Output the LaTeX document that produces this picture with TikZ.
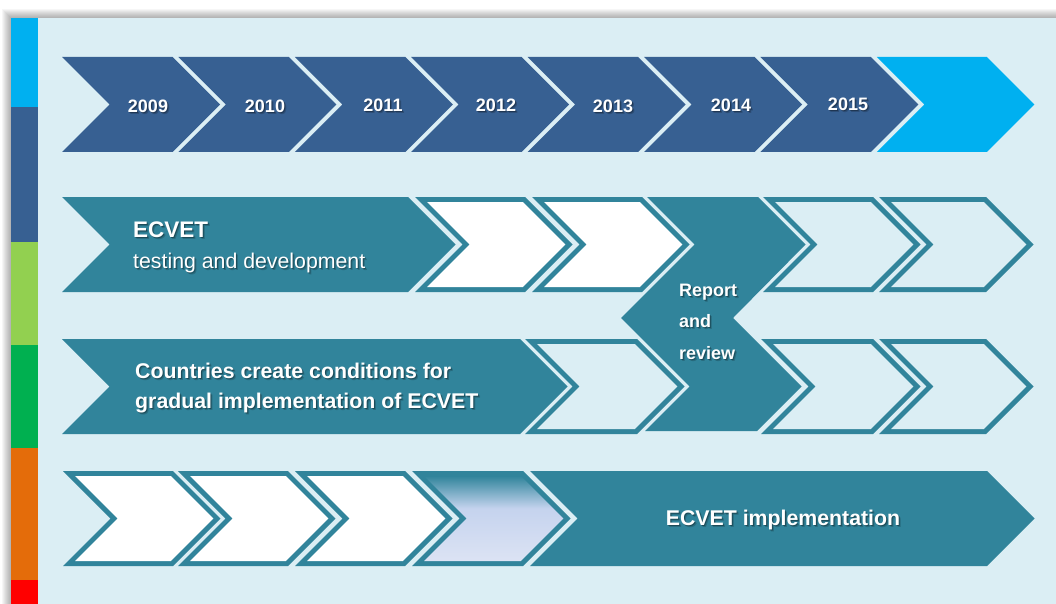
\documentclass[tikz,border=0pt]{standalone}
\usepackage{fontspec}
\setmainfont{Liberation Sans}
\usetikzlibrary{calc}
\definecolor{panelbg}{HTML}{DBEEF4}
\definecolor{tealc}{HTML}{31849B}
\definecolor{darkb}{HTML}{376092}
\definecolor{cyanc}{HTML}{00B0F0}
\definecolor{lgreen}{HTML}{92D050}
\definecolor{greenc}{HTML}{00B050}
\definecolor{orangec}{HTML}{E46C0A}
\definecolor{redc}{HTML}{FF0000}
\definecolor{lavb}{HTML}{DCE3F4}
\definecolor{lavm}{HTML}{C5D3EE}
\definecolor{tealm}{HTML}{7FAFC8}
\pgfdeclareverticalshading{gradchev}{100bp}{color(0bp)=(lavb); color(25bp)=(lavb); color(56bp)=(lavm); color(65bp)=(tealm); color(75bp)=(tealc); color(100bp)=(tealc)}
% chevron path: left x, top y, top-edge width, depth
\newcommand\chevp[4]{({#1},{#2}) -- ++({#3},0) -- ++({#4},{#4}) -- ++({-(#4)},{#4}) -- ++({-(#3)},0) -- ++({#4},{-(#4)}) -- cycle}
% outlined chevron: left x, top y, width, inner fill
\newcommand\ochev[4]{\fill[tealc] \chevp{#1}{#2}{#3}{47.5}; \fill[#4] \chevp{#1+12.07}{#2+5}{#3-14.14}{42.5};}
% text with drop shadow: name, style, anchor, x, y, text
\newcommand\stext[6]{%
  \node[#2,anchor=#3,text=black,text opacity=0.18] (#1sa) at ({#4+2},{#5+2}) {#6};
  \node[#2,anchor=#3,text=black,text opacity=0.3] (#1sb) at ({#4+1},{#5+1}) {#6};
  \node[#2,anchor=#3] (#1) at ({#4},{#5}) {#6};}
\tikzset{
  yr/.style={font=\bfseries\fontsize{18}{18}\selectfont, text=white, inner sep=0pt},
  big/.style={font=\bfseries\fontsize{22.5}{22}\selectfont, text=white, inner sep=0pt},
  sub/.style={font=\fontsize{21.3}{21}\selectfont, text=white, inner sep=0pt},
  mid/.style={font=\bfseries\fontsize{21.3}{21}\selectfont, text=white, inner sep=0pt},
  rep/.style={font=\bfseries\fontsize{18}{18}\selectfont, text=white, inner sep=0pt},
}
\begin{document}
\begin{tikzpicture}[x=1pt,y=-1pt]
\useasboundingbox (0,0) rectangle (1056,604);
\fill[white] (0,0) rectangle (1056,604);
% panel shadow
\foreach \i in {1,...,9}{\fill[black,opacity=0.035] ({11-\i},{18-\i}) rectangle ({1056+\i},{604+\i});}
\fill[panelbg] (11,18) rectangle (1056,604);
% left colour bar
\fill[cyanc] (11,18) rectangle (38,107);
\fill[darkb] (11,107) rectangle (38,242);
\fill[lgreen] (11,242) rectangle (38,345);
\fill[greenc] (11,345) rectangle (38,448);
\fill[orangec] (11,448) rectangle (38,580);
\fill[redc] (11,580) rectangle (38,604);
% top row: years
\foreach \k in {0,...,6}{\fill[darkb] \chevp{62+116.4*\k}{57}{110.5}{47.5};}
\fill[cyanc] \chevp{62+116.4*7}{57}{110}{47.5};
\stext{y9}{yr}{center}{148}{106}{2009}
\stext{y10}{yr}{center}{265}{106}{2010}
\stext{y11}{yr}{center}{383}{105}{2011}
\stext{y12}{yr}{center}{496}{105}{2012}
\stext{y13}{yr}{center}{613}{106}{2013}
\stext{y14}{yr}{center}{731}{105}{2014}
\stext{y15}{yr}{center}{848}{104}{2015}
% row 2
\fill[tealc] \chevp{62}{197}{346}{47.5};
\ochev{415}{197}{110}{white}
\ochev{532}{197}{110}{white}
\ochev{763}{197}{110}{panelbg}
\ochev{879}{197}{107}{panelbg}
\stext{ecv}{big}{base west}{133}{237}{ECVET}
\stext{tad}{sub}{base west}{133}{268}{testing and development}
% row 3
\fill[tealc] \chevp{62}{339}{458}{47.5};
\ochev{525}{339}{112}{panelbg}
\ochev{761}{339}{112}{panelbg}
\ochev{879}{339}{107}{panelbg}
\stext{cc1}{mid}{base west}{135}{378}{Countries create conditions for}
\stext{cc2}{mid}{base west}{135}{408}{gradual implementation of ECVET}
% report and review
\fill[tealc] (647,197) -- (758,197) -- (805.5,244.5) -- (733,318) -- (801.5,386.5) -- (757,431) -- (645,431) -- (689.5,386.5) -- (621,318) -- (694.5,244.5) -- cycle;
\stext{rr1}{rep}{base west}{679}{296}{Report}
\stext{rr2}{rep}{base west}{679}{327}{and}
\stext{rr3}{rep}{base west}{679}{359}{review}
% row 4
\ochev{63}{471}{110}{white}
\ochev{178}{471}{110}{white}
\ochev{295}{471}{110}{white}
\fill[tealc] \chevp{412}{471}{111}{47.5};
\shade[shading=gradchev] \chevp{412+12.07}{476}{111-14.14}{42.5};
\fill[tealc] \chevp{530}{471}{457}{47.5};
\stext{imp}{mid}{base}{783}{525}{ECVET implementation}
\end{tikzpicture}
\end{document}
